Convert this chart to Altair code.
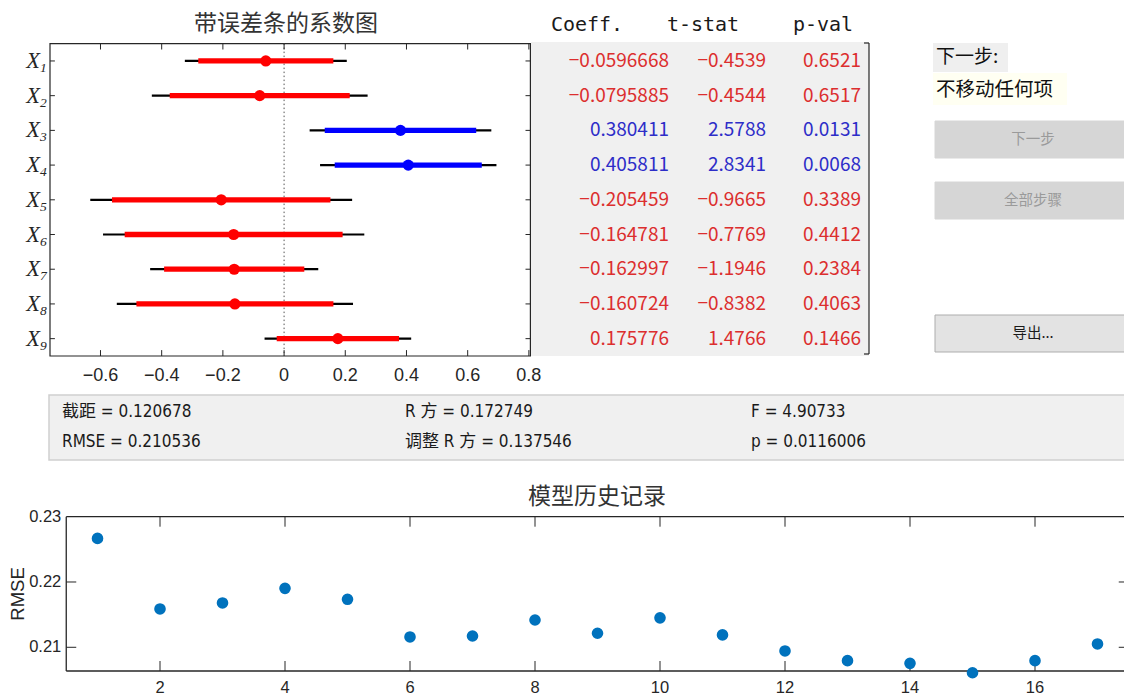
import altair as alt
import pandas as pd

# ---------------- stepwise coefficient table ----------------
term_index = [1, 2, 3, 4, 5, 6, 7, 8, 9]
coef = [-0.0596668, -0.0795885, 0.380411, 0.405811, -0.205459,
        -0.164781, -0.162997, -0.160724, 0.175776]
tstat = [-0.4539, -0.4544, 2.5788, 2.8341, -0.9665, -0.7769, -1.1946, -0.8382, 1.4766]
pval = [0.6521, 0.6517, 0.0131, 0.0068, 0.3389, 0.4412, 0.2384, 0.4063, 0.1466]
in_model = [False, False, True, True, False, False, False, False, False]
# 95% (thin) and 90% (thick) confidence limits
ci95_lo = [-0.3243, -0.4322, 0.0835, 0.1176, -0.6334, -0.5917, -0.4377, -0.5467, -0.0638]
ci95_hi = [0.2049, 0.2730, 0.6773, 0.6940, 0.2224, 0.2622, 0.1117, 0.2253, 0.4154]
ci90_lo = [-0.2804, -0.3737, 0.1329, 0.1655, -0.5624, -0.5209, -0.3921, -0.4826, -0.0241]
ci90_hi = [0.1610, 0.2145, 0.6279, 0.6461, 0.1515, 0.1913, 0.0661, 0.1612, 0.3757]
coef_ticks = [-0.6, -0.4, -0.2, 0.0, 0.2, 0.4, 0.6, 0.8]
coef_limits = [-0.765, 0.805]
row_limits = [0.5, 9.5]

# ---------------- model summary ----------------
summary_labels = ["截距", "RMSE", "R 方", "调整 R 方", "F", "p"]
summary_values = [0.120678, 0.210536, 0.172749, 0.137546, 4.90733, 0.0116006]

# ---------------- model history ----------------
history_step = list(range(1, 18))
history_rmse = [0.22668, 0.21587, 0.21679, 0.21903, 0.21735, 0.21158, 0.21173, 0.21418,
                0.21215, 0.21451, 0.21190, 0.20944, 0.20795, 0.20754, 0.20610, 0.20795,
                0.21051]
history_xticks = [2, 4, 6, 8, 10, 12, 14, 16]
history_yticks = [0.21, 0.22, 0.23]
step_limits = [0.5, 17.5]
rmse_limits = [0.20637, 0.23]

AX = "#262626"
SANS = "Liberation Sans, Arial, sans-serif"
NARROW = "Liberation Sans Narrow, DejaVu Sans Condensed, Noto Sans CJK SC, sans-serif"
CJK = "Noto Sans CJK SC, sans-serif"
SERIF = "Liberation Serif, Times New Roman, serif"
MONO = "DejaVu Sans Mono, monospace"

one = pd.DataFrame({"k": [0]})

coef_df = pd.DataFrame({
    "row": term_index, "coef": coef, "t": tstat, "p": pval,
    "lo95": ci95_lo, "hi95": ci95_hi, "lo90": ci90_lo, "hi90": ci90_hi,
    "status": ["in" if m else "out" for m in in_model],
    "sub": [str(i) for i in term_index],
})

XC = alt.Scale(domain=coef_limits, range=[50, 530.4], nice=False, zero=False)
YR = alt.Scale(domain=row_limits, range=[43.6, 356], nice=False, zero=False)


def xc(field):
    return alt.X(field, type="quantitative", scale=XC, axis=None)


def xcd(v):
    return alt.XDatum(v, type="quantitative", scale=XC, axis=None)


def yr(field="row"):
    return alt.Y(field, type="quantitative", scale=YR, axis=None)


def yrd(v):
    return alt.YDatum(v, type="quantitative", scale=YR, axis=None)


mark_color = alt.Color("status:N", legend=None,
                       scale=alt.Scale(domain=["in", "out"], range=["#0000ff", "#ff0000"]))
text_color = alt.Color("status:N", legend=None,
                       scale=alt.Scale(domain=["in", "out"], range=["#2d2dc8", "#dc2e2e"]))

layers = []

# table background (drawn first so the axes frame sits on top)
layers.append(alt.Chart(one).mark_rect(color="#f0f0f0").encode(
    x=alt.value(531), x2=alt.value(869), y=alt.value(42), y2=alt.value(356)))

# ---- coefficient plot ----
xt_df = pd.DataFrame({"v": coef_ticks})
layers += [
    alt.Chart(one).mark_rect(fillOpacity=0, stroke=AX, strokeWidth=1.2).encode(
        x=xcd(coef_limits[0]), x2=alt.X2Datum(coef_limits[1]),
        y=yrd(row_limits[0]), y2=alt.Y2Datum(row_limits[1])),
    alt.Chart(pd.DataFrame({"v": [0.0]})).mark_rule(
        color="#555555", strokeWidth=1, strokeDash=[1.5, 2.5]).encode(
        x=xc("v"), y=yrd(row_limits[0]), y2=alt.Y2Datum(row_limits[1])),
    alt.Chart(xt_df).mark_rule(color=AX, strokeWidth=1).encode(
        x=xc("v"), y=yrd(row_limits[0]), y2=alt.Y2Datum(row_limits[0] + 0.17)),
    alt.Chart(xt_df).mark_rule(color=AX, strokeWidth=1).encode(
        x=xc("v"), y=yrd(row_limits[1]), y2=alt.Y2Datum(row_limits[1] - 0.17)),
    alt.Chart(xt_df).mark_text(baseline="top", dy=11, fontSize=18, font=SANS, color=AX).encode(
        x=xc("v"), y=yrd(row_limits[1]), text=alt.Text("v:Q", format="~g")),
    alt.Chart(coef_df).mark_rule(color=AX, strokeWidth=1).encode(
        x=xcd(coef_limits[0]), x2=alt.X2Datum(coef_limits[0] + 0.016), y=yr()),
    alt.Chart(coef_df).mark_rule(color=AX, strokeWidth=1).encode(
        x=xcd(coef_limits[1] - 0.016), x2=alt.X2Datum(coef_limits[1]), y=yr()),
    alt.Chart(coef_df).mark_rule(color="black", strokeWidth=2.2).encode(
        x=xc("lo95"), x2="hi95", y=yr()),
    alt.Chart(coef_df).mark_rule(strokeWidth=5.3, strokeCap="butt").encode(
        x=xc("lo90"), x2="hi90", y=yr(), color=mark_color),
    alt.Chart(coef_df).mark_circle(size=125, opacity=1).encode(
        x=xc("coef"), y=yr(), color=mark_color),
    alt.Chart(coef_df).mark_text(text="X", font=SERIF, fontStyle="italic", fontSize=22.5,
                                 align="right", baseline="middle", dx=-10, color=AX).encode(
        x=xcd(coef_limits[0]), y=yr()),
    alt.Chart(coef_df).mark_text(font=SERIF, fontStyle="italic", fontSize=13.5,
                                 align="left", baseline="alphabetic", dx=-10, dy=11, color=AX).encode(
        x=xcd(coef_limits[0]), y=yr(), text="sub:N"),
    alt.Chart(pd.DataFrame({"t": ["带误差条的系数图"]})).mark_text(
        font=CJK, fontSize=23, color="#333333", align="center", baseline="middle").encode(
        x=alt.value(286), y=alt.value(24), text="t:N"),
]

# ---- coefficient table ----
layers += [
    alt.Chart(one).mark_rule(color=AX, strokeWidth=1.2).encode(
        x=alt.value(869), y=alt.value(43), y2=alt.value(354)),
    alt.Chart(one).mark_rule(color=AX, strokeWidth=1.2).encode(
        x=alt.value(864), x2=alt.value(869), y=alt.value(43)),
    alt.Chart(one).mark_rule(color=AX, strokeWidth=1.2).encode(
        x=alt.value(864), x2=alt.value(869), y=alt.value(354)),
]
for head, cx in [("Coeff.", 587), ("t-stat", 703), ("p-val", 823)]:
    layers.append(alt.Chart(pd.DataFrame({"t": [head]})).mark_text(
        font=MONO, fontSize=20, color="#1a1a1a", align="center", baseline="middle").encode(
        x=alt.value(cx), y=alt.value(25), text="t:N"))
for field, fmt, rx in [("coef", ".6~g", 669), ("t", ".4f", 766), ("p", ".4f", 861)]:
    layers.append(alt.Chart(coef_df).mark_text(
        font=CJK, fontSize=19, align="right", baseline="middle").encode(
        x=alt.value(rx), y=yr(), text=alt.Text(f"{field}:Q", format=fmt), color=text_color))

# ---- step controls ----
layers += [
    alt.Chart(one).mark_rect(color="#efefef").encode(
        x=alt.value(933), x2=alt.value(1008), y=alt.value(43), y2=alt.value(72)),
    alt.Chart(one).mark_rect(color="#fffff2").encode(
        x=alt.value(933), x2=alt.value(1067), y=alt.value(73), y2=alt.value(105)),
    alt.Chart(pd.DataFrame({"t": ["下一步:"]})).mark_text(
        font=CJK, fontSize=19, color="#111111", align="left", baseline="middle").encode(
        x=alt.value(936), y=alt.value(57), text="t:N"),
    alt.Chart(pd.DataFrame({"t": ["不移动任何项"]})).mark_text(
        font=CJK, fontSize=19.5, color="#111111", align="left", baseline="middle").encode(
        x=alt.value(936), y=alt.value(90), text="t:N"),
]
for label, top, bot, fill, stroke, tcol in [
        ("下一步", 121, 158, "#d6d6d6", "#d6d6d6", "#9a9a9a"),
        ("全部步骤", 182, 219, "#d6d6d6", "#d6d6d6", "#9a9a9a"),
        ("导出...", 315, 352, "#e3e3e3", "#adadad", "#1a1a1a")]:
    layers.append(alt.Chart(one).mark_rect(color=fill, stroke=stroke, strokeWidth=1).encode(
        x=alt.value(935), x2=alt.value(1130), y=alt.value(top), y2=alt.value(bot)))
    layers.append(alt.Chart(pd.DataFrame({"t": [label]})).mark_text(
        font=CJK, fontSize=14.5, color=tcol, align="center", baseline="middle").encode(
        x=alt.value(1033), y=alt.value((top + bot) / 2), text="t:N"))

# ---- model summary panel ----
layers.append(alt.Chart(one).mark_rect(color="#f0f0f0", stroke="#cfcfcf", strokeWidth=1.5).encode(
    x=alt.value(49), x2=alt.value(1130), y=alt.value(395), y2=alt.value(460)))
summary_x = [62, 62, 405, 405, 751, 751]
summary_y = [412, 442, 412, 442, 412, 442]
for lab, val, sx, sy in zip(summary_labels, summary_values, summary_x, summary_y):
    layers.append(alt.Chart(pd.DataFrame({"t": [f"{lab} = {val}"]})).mark_text(
        font=NARROW, fontSize=17, color="#1a1a1a", align="left", baseline="middle").encode(
        x=alt.value(sx), y=alt.value(sy), text="t:N"))

# ---- model history plot ----
XH = alt.Scale(domain=step_limits, range=[66.25, 1128.75], nice=False, zero=False)
YH = alt.Scale(domain=rmse_limits, range=[671, 516.7], nice=False, zero=False)


def xh(field):
    return alt.X(field, type="quantitative", scale=XH, axis=None)


def xhd(v):
    return alt.XDatum(v, type="quantitative", scale=XH, axis=None)


def yh(field):
    return alt.Y(field, type="quantitative", scale=YH, axis=None)


def yhd(v):
    return alt.YDatum(v, type="quantitative", scale=YH, axis=None)


hist_df = pd.DataFrame({"step": history_step, "rmse": history_rmse})
hx_df = pd.DataFrame({"v": history_xticks})
hy_df = pd.DataFrame({"v": history_yticks})
hy_inner = hy_df[hy_df.v < rmse_limits[1]]
xtick_len = 0.00153
ytick_len = 0.16
layers += [
    alt.Chart(one).mark_rule(color=AX, strokeWidth=1.3).encode(
        x=xhd(step_limits[0]), x2=alt.X2Datum(step_limits[1]), y=yhd(rmse_limits[1])),
    alt.Chart(one).mark_rule(color=AX, strokeWidth=1.3).encode(
        x=xhd(step_limits[0]), x2=alt.X2Datum(step_limits[1]), y=yhd(rmse_limits[0])),
    alt.Chart(one).mark_rule(color=AX, strokeWidth=1.3).encode(
        x=xhd(step_limits[0]), y=yhd(rmse_limits[0]), y2=alt.Y2Datum(rmse_limits[1])),
    alt.Chart(hx_df).mark_rule(color=AX, strokeWidth=1).encode(
        x=xh("v"), y=yhd(rmse_limits[1]), y2=alt.Y2Datum(rmse_limits[1] - xtick_len)),
    alt.Chart(hx_df).mark_rule(color=AX, strokeWidth=1).encode(
        x=xh("v"), y=yhd(rmse_limits[0]), y2=alt.Y2Datum(rmse_limits[0] + xtick_len)),
    alt.Chart(hy_inner).mark_rule(color=AX, strokeWidth=1).encode(
        x=xhd(step_limits[0]), x2=alt.X2Datum(step_limits[0] + ytick_len), y=yh("v")),
    alt.Chart(hy_inner).mark_rule(color=AX, strokeWidth=1).encode(
        x=xhd(step_limits[1] - ytick_len), x2=alt.X2Datum(step_limits[1]), y=yh("v")),
    alt.Chart(hx_df).mark_text(font=SANS, fontSize=16.5, color=AX, baseline="top", dy=9).encode(
        x=xh("v"), y=yhd(rmse_limits[0]), text=alt.Text("v:Q", format="d")),
    alt.Chart(hy_df).mark_text(font=SANS, fontSize=16.5, color=AX, align="right",
                               baseline="middle", dx=-5).encode(
        x=xhd(step_limits[0]), y=yh("v"), text=alt.Text("v:Q", format=".2f")),
    alt.Chart(hist_df).mark_circle(size=135, opacity=1, color="#0072BD").encode(
        x=xh("step"), y=yh("rmse")),
    alt.Chart(pd.DataFrame({"t": ["RMSE"]})).mark_text(
        font=SANS, fontSize=18.5, color=AX, angle=270, align="center", baseline="middle").encode(
        x=alt.value(18), y=alt.value(594), text="t:N"),
    alt.Chart(pd.DataFrame({"t": ["模型历史记录"]})).mark_text(
        font=CJK, fontSize=23, color="#333333", align="center", baseline="middle").encode(
        x=alt.value(597), y=alt.value(497), text="t:N"),
]

chart = alt.layer(*layers).resolve_scale(
    x="independent", y="independent", color="independent"
).properties(
    width=1124, height=698, padding=0, background="white",
    autosize=alt.AutoSizeParams(type="none"),
).configure_view(stroke=None)

chart.save("out.html", embed_options={"renderer": "svg", "actions": False})
